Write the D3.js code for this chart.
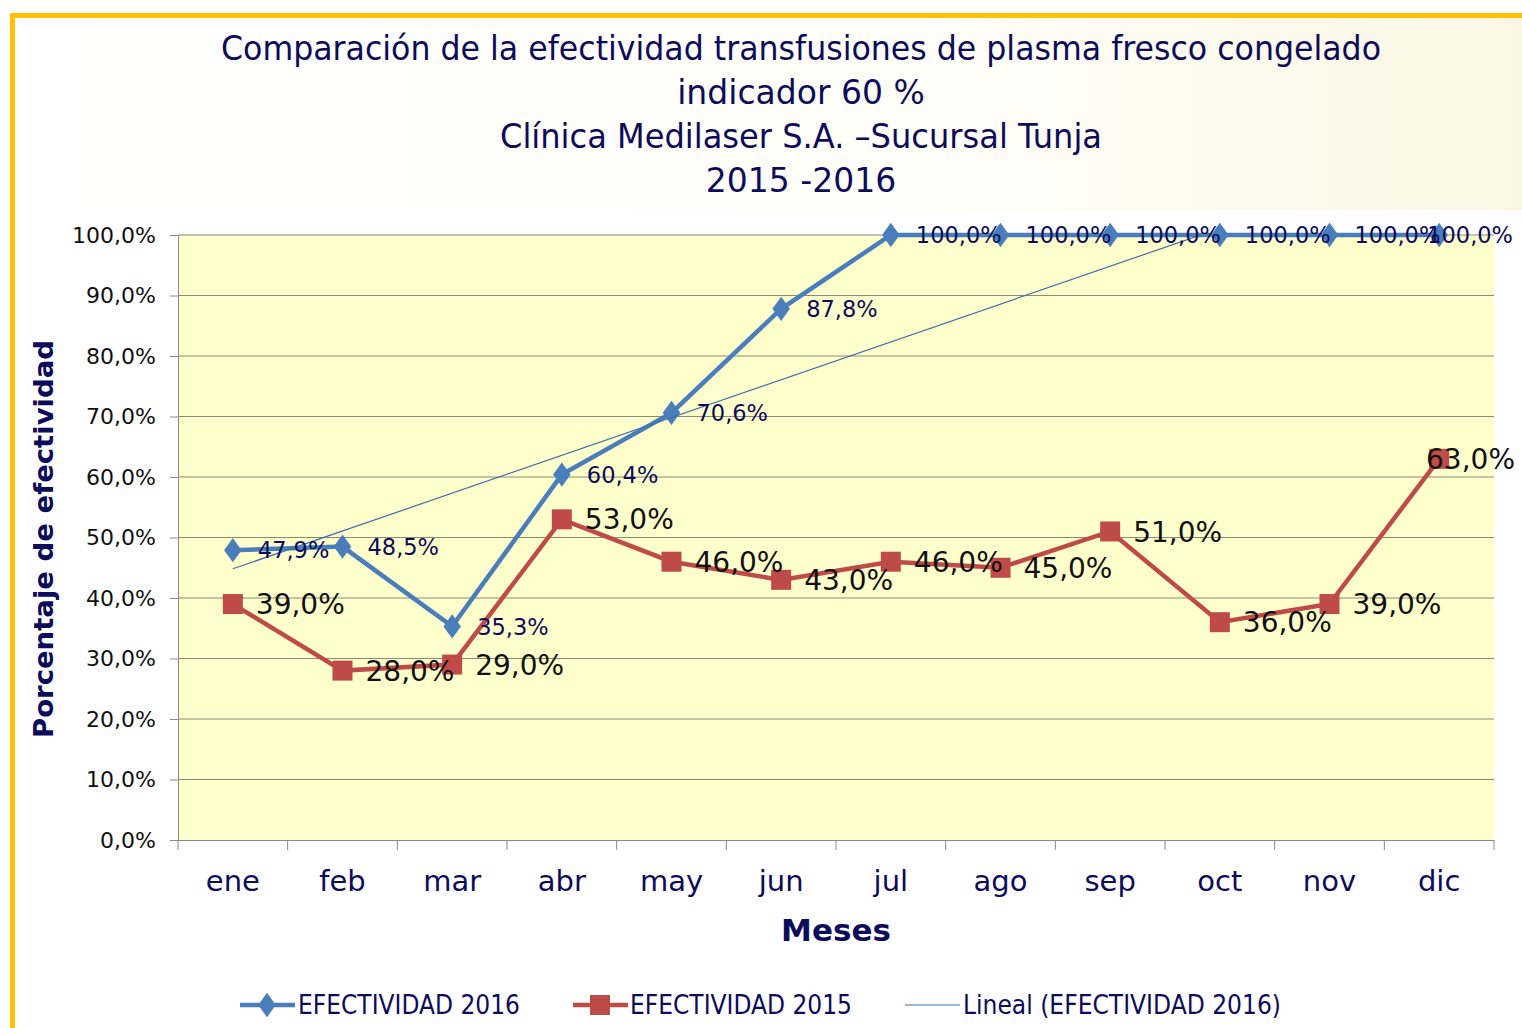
<!DOCTYPE html>
<html><head><meta charset="utf-8">
<script src="https://cdn.jsdelivr.net/npm/d3@7"></script>
<style>body{margin:0;background:#fff;}svg{display:block;font-family:"DejaVu Sans",sans-serif;}</style>
</head><body>
<svg id="c" width="1522" height="1028"></svg>
<script>
const months = ["ene","feb","mar","abr","may","jun","jul","ago","sep","oct","nov","dic"];
const values2016 = [47.9,48.5,35.3,60.4,70.6,87.8,100,100,100,100,100,100];
const values2015 = [39,28,29,53,46,43,46,45,51,36,39,63];
const yTicks = [0,10,20,30,40,50,60,70,80,90,100];
const titleLines = ["Comparación de la efectividad transfusiones de plasma fresco congelado","indicador 60 %","Clínica Medilaser S.A. –Sucursal Tunja","2015 -2016"];
const seriesNames = ["EFECTIVIDAD 2016","EFECTIVIDAD 2015","Lineal (EFECTIVIDAD 2016)"];

const svg = d3.select("#c");
const W=1522,H=1028;
const m={l:178,r:1494,t:235,b:840};
const navy="#0c0c5a", blue="#4a7ebb", red="#be4b48";
const fmt = v => d3.format(".1f")(v).replace(".",",")+"%";

// background
svg.append("rect").attr("width",W).attr("height",H).attr("fill","#fff");
const g0=svg.append("defs").append("linearGradient").attr("id","cream").attr("x1",0).attr("x2",1);
g0.append("stop").attr("offset","0").attr("stop-color","#ffffff");
g0.append("stop").attr("offset","0.6").attr("stop-color","#fffef8");
g0.append("stop").attr("offset","1").attr("stop-color","#fbf6e4");
svg.append("rect").attr("x",15).attr("y",17).attr("width",W-15).attr("height",193).attr("fill","url(#cream)");
// border
svg.append("rect").attr("x",10).attr("y",13).attr("width",W-10).attr("height",5).attr("fill","#ffc000");
svg.append("rect").attr("x",10).attr("y",13).attr("width",5).attr("height",H-13).attr("fill","#ffc000");

const x=d3.scaleBand().domain(months).range([m.l,m.r]);
const y=d3.scaleLinear().domain([0,100]).range([m.b,m.t]);
const cx=d=>x(d)+x.bandwidth()/2;

// plot area
svg.append("rect").attr("x",m.l).attr("y",m.t).attr("width",m.r-m.l).attr("height",m.b-m.t).attr("fill","#ffffcc");
svg.append("g").selectAll("line").data(yTicks.filter(d=>d>0)).join("line")
 .attr("x1",m.l).attr("x2",m.r).attr("y1",d=>y(d)).attr("y2",d=>y(d)).attr("stroke","#8a8a7a").attr("stroke-width",1);

// y axis
const ya=svg.append("g").attr("transform",`translate(${m.l},0)`).call(d3.axisLeft(y).tickValues(yTicks).tickFormat(fmt).tickSize(8).tickPadding(14));
ya.select(".domain").attr("stroke","#8a8a8a");
ya.selectAll(".tick line").attr("stroke","#8a8a8a");
ya.selectAll("text").attr("font-size",22).attr("fill","#111").attr("font-family","DejaVu Sans");

// x axis
const xa=svg.append("g").attr("transform",`translate(0,${m.b})`).call(d3.axisBottom(x).tickSize(0).tickPadding(45));
xa.select(".domain").attr("stroke","#8a8a8a");
xa.selectAll("text").attr("font-size",29).attr("fill",navy).attr("font-family","DejaVu Sans").attr("dy","0.2em");
const bounds=d3.range(months.length+1).map(i=>m.l+i*x.step());
svg.append("g").selectAll("line").data(bounds).join("line")
 .attr("x1",d=>d).attr("x2",d=>d).attr("y1",m.b).attr("y2",m.b+10).attr("stroke","#8a8a8a");

// titles
svg.append("g").selectAll("text").data(titleLines).join("text")
 .attr("x",801).attr("y",(d,i)=>60+i*44).attr("text-anchor","middle")
 .attr("font-size",33).attr("fill",navy).text(d=>d)
 .each(function(d,i){ if(i===0) d3.select(this).attr("textLength",1160).attr("lengthAdjust","spacingAndGlyphs");
   if(i===2) d3.select(this).attr("textLength",602).attr("lengthAdjust","spacingAndGlyphs");});

svg.append("text").attr("x",836).attr("y",941).attr("text-anchor","middle").attr("font-size",31).attr("font-weight","bold").attr("fill",navy).text("Meses");
svg.append("text").attr("transform","translate(53,539) rotate(-90)").attr("text-anchor","middle").attr("font-size",27).attr("font-weight","bold").attr("fill",navy)
 .attr("textLength",398).attr("lengthAdjust","spacingAndGlyphs").text("Porcentaje de efectividad");

// clip
svg.append("clipPath").attr("id","pc").append("rect").attr("x",m.l).attr("y",m.t).attr("width",m.r-m.l).attr("height",m.b-m.t);

const line=d3.line().x((d,i)=>cx(months[i])).y(d=>y(d));
// red 2015
svg.append("path").datum(values2015).attr("d",line).attr("fill","none").attr("stroke",red).attr("stroke-width",4.5);
svg.append("g").selectAll("rect").data(values2015).join("rect")
 .attr("x",(d,i)=>cx(months[i])-10).attr("y",d=>y(d)-10).attr("width",20).attr("height",20).attr("fill",red);
// blue 2016
svg.append("path").datum(values2016).attr("d",line).attr("fill","none").attr("stroke",blue).attr("stroke-width",4.5);
const diamond=d3.symbol().type(d3.symbolDiamond).size(170);
svg.append("g").selectAll("path").data(values2016).join("path")
 .attr("transform",(d,i)=>`translate(${cx(months[i])},${y(d)}) scale(1.25,1)`).attr("d",diamond).attr("fill",blue);

// trend line (least squares on 2016)
const xi=values2016.map((d,i)=>i+1);
const mx=d3.mean(xi), my=d3.mean(values2016);
const slope=d3.sum(xi.map((v,i)=>(v-mx)*(values2016[i]-my)))/d3.sum(xi.map(v=>(v-mx)**2));
const icpt=my-slope*mx;
const xs=d3.scaleLinear().domain([1,12]).range([cx(months[0]),cx(months[11])]);
svg.append("line").attr("clip-path","url(#pc)")
 .attr("x1",xs(1)).attr("y1",y(icpt+slope)).attr("x2",xs(12)).attr("y2",y(icpt+slope*12))
 .attr("stroke","#3f6fa8").attr("stroke-width",1.2);

// labels (last label pushed inside the chart edge, as in the reference)
const last=months.length-1;
svg.append("g").selectAll("text").data(values2015).join("text")
 .attr("x",(d,i)=>i===last?1515:cx(months[i])+23).attr("text-anchor",(d,i)=>i===last?"end":"start")
 .attr("y",d=>y(d)).attr("dy","0.36em")
 .attr("font-size",28).attr("fill","#111").text(fmt);
svg.append("g").selectAll("text").data(values2016).join("text")
 .attr("x",(d,i)=>i===last?1513:cx(months[i])+25).attr("text-anchor",(d,i)=>i===last?"end":"start")
 .attr("y",d=>y(d)).attr("dy","0.36em")
 .attr("font-size",22.5).attr("fill",navy).text(fmt);

// legend
const ly=1005;
const lg=svg.append("g");
lg.append("line").attr("x1",240).attr("x2",295).attr("y1",ly).attr("y2",ly).attr("stroke",blue).attr("stroke-width",4.5);
lg.append("path").attr("transform",`translate(267,${ly}) scale(1.25,1)`).attr("d",diamond).attr("fill",blue);
lg.append("line").attr("x1",573).attr("x2",628).attr("y1",ly).attr("y2",ly).attr("stroke",red).attr("stroke-width",4.5);
lg.append("rect").attr("x",590).attr("y",ly-10).attr("width",20).attr("height",20).attr("fill",red);
lg.append("line").attr("x1",905).attr("x2",960).attr("y1",ly).attr("y2",ly).attr("stroke","#3f6fa8").attr("stroke-width",1.2);
const lx=[298,630,963], lw=[222,222,318];
lg.selectAll("text").data(seriesNames).join("text")
 .attr("x",(d,i)=>lx[i]).attr("y",ly).attr("dy","0.36em").attr("font-size",26).attr("fill",navy)
 .attr("textLength",(d,i)=>lw[i]).attr("lengthAdjust","spacingAndGlyphs").text(d=>d);
</script>
</body></html>
